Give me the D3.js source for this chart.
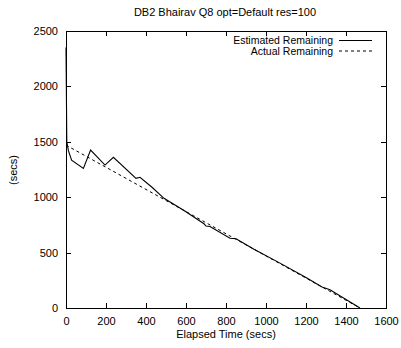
<!DOCTYPE html>
<html>
<head>
<meta charset="utf-8">
<script src="https://cdn.jsdelivr.net/npm/d3@7"></script>
<style>
  html, body { margin: 0; padding: 0; background: #fff; }
  svg text { font-family: "Liberation Sans", Arial, Helvetica, sans-serif; font-size: 11px; fill: #000; }
</style>
</head>
<body>
<svg id="chart" width="401" height="348"></svg>
<script>
// Estimated remaining time reported during the run (elapsed secs, remaining secs)
const estTime = [0, 4, 12, 28, 87, 123, 195, 237, 350, 370, 430, 490, 590, 690, 700, 720, 820, 850, 940, 1070, 1200, 1280, 1320, 1470];
const estRemaining = [2350, 1500, 1420, 1335, 1260, 1425, 1290, 1360, 1170, 1180, 1090, 990, 880, 760, 740, 735, 630, 625, 530, 405, 275, 190, 165, 0];
// Actual remaining time
const actTime = [0, 1470];
const actRemaining = [1470, 0];

const xTicks = [0, 200, 400, 600, 800, 1000, 1200, 1400, 1600];
const yTicks = [0, 500, 1000, 1500, 2000, 2500];

const title = "DB2 Bhairav Q8 opt=Default res=100";
const xLabel = "Elapsed Time (secs)";
const yLabel = "(secs)";
const seriesNames = ["Estimated Remaining", "Actual Remaining"];

const svg = d3.select("#chart");
const m = { left: 66, right: 386, top: 31, bottom: 308 };

const x = d3.scaleLinear().domain([0, 1600]).range([m.left, m.right]);
const y = d3.scaleLinear().domain([0, 2500]).range([m.bottom, m.top]);
const tickLen = 5;
const fmt = d3.format("d");

// axes with inward ticks on all four sides
const axBottom = d3.axisBottom(x).tickValues(xTicks).tickFormat(fmt).tickSize(0).tickPadding(9);
const axLeft = d3.axisLeft(y).tickValues(yTicks).tickFormat(fmt).tickSize(0).tickPadding(8);

svg.append("g").attr("transform", `translate(0,${m.bottom})`).call(axBottom)
  .call(g => g.select(".domain").remove())
  .call(g => g.selectAll("text").attr("font-size", 11).attr("font-family", null));
svg.append("g").attr("transform", `translate(${m.left},0)`).call(axLeft)
  .call(g => g.select(".domain").remove())
  .call(g => g.selectAll("text").attr("font-size", 11).attr("font-family", null));

const ticks = svg.append("g").attr("stroke", "#000").attr("stroke-width", 1);
xTicks.forEach(t => {
  const px = Math.round(x(t)) + 0.5;
  ticks.append("line").attr("x1", px).attr("x2", px).attr("y1", m.bottom).attr("y2", m.bottom - tickLen);
  ticks.append("line").attr("x1", px).attr("x2", px).attr("y1", m.top).attr("y2", m.top + tickLen);
});
yTicks.forEach(t => {
  const py = Math.round(y(t)) + 0.5;
  ticks.append("line").attr("x1", m.left).attr("x2", m.left + tickLen).attr("y1", py).attr("y2", py);
  ticks.append("line").attr("x1", m.right).attr("x2", m.right - tickLen).attr("y1", py).attr("y2", py);
});

// frame
svg.append("rect")
  .attr("x", m.left + 0.5).attr("y", m.top + 0.5)
  .attr("width", m.right - m.left).attr("height", m.bottom - m.top)
  .attr("fill", "none").attr("stroke", "#000").attr("stroke-width", 1);

// series
const line = d3.line().x(d => x(d[0])).y(d => y(d[1]));
const estData = estTime.map((t, i) => [t, estRemaining[i]]);
const actData = actTime.map((t, i) => [t, actRemaining[i]]);

svg.append("path").datum(actData).attr("d", line)
  .attr("fill", "none").attr("stroke", "#000").attr("stroke-width", 1)
  .attr("stroke-dasharray", "3,3");
svg.append("path").datum(estData).attr("d", line)
  .attr("fill", "none").attr("stroke", "#000").attr("stroke-width", 1.1);

// title and axis labels
svg.append("text").attr("x", 225).attr("y", 16).attr("text-anchor", "middle").text(title);
svg.append("text").attr("x", 226).attr("y", 338).attr("text-anchor", "middle").text(xLabel);
svg.append("text").attr("transform", "translate(17,170) rotate(-90)").attr("text-anchor", "middle").text(yLabel);

// legend
const legend = svg.append("g");
seriesNames.forEach((name, i) => {
  const ly = 40.5 + i * 10.5;
  legend.append("text").attr("x", 333).attr("y", ly + 3.8).attr("text-anchor", "end")
    .style("font-size", "10.5px").text(name);
  legend.append("line").attr("x1", 339).attr("x2", 372).attr("y1", ly).attr("y2", ly)
    .attr("stroke", "#000").attr("stroke-width", 1)
    .attr("stroke-dasharray", i === 1 ? "3,3" : null);
});
</script>
</body>
</html>
